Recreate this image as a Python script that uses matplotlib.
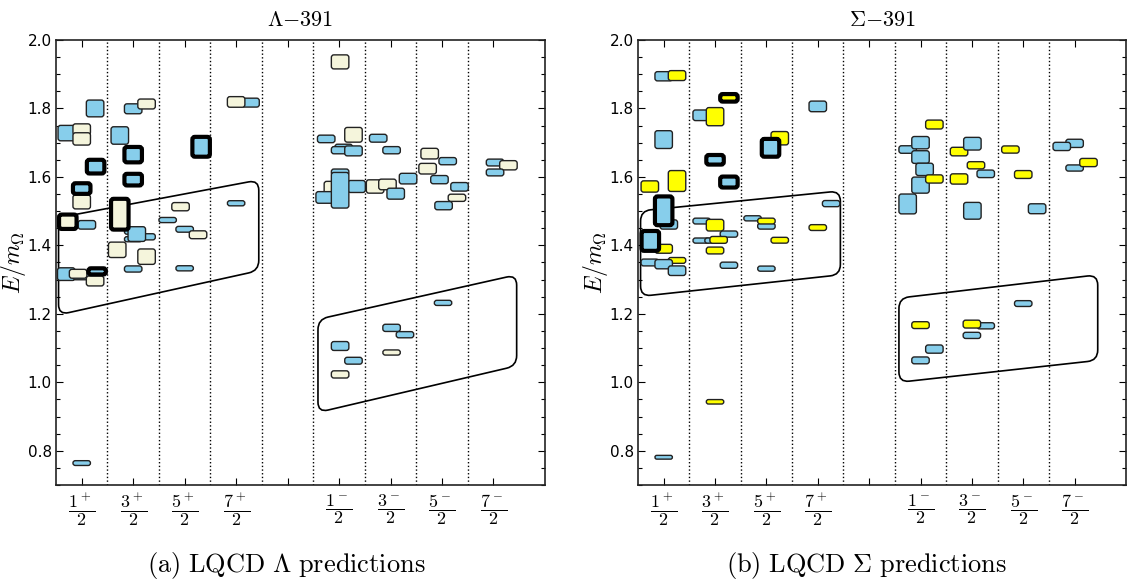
import matplotlib
matplotlib.use("Agg")
import numpy as np
from matplotlib import pyplot as plt
from matplotlib.patches import FancyBboxPatch, PathPatch
from matplotlib.path import Path
from matplotlib.ticker import MultipleLocator, FormatStrFormatter

plt.rcParams['mathtext.fontset'] = 'cm'

spinLabels = [r'$\dfrac{1^+}{2}$', r'$\dfrac{3^+}{2}$', r'$\dfrac{5^+}{2}$', r'$\dfrac{7^+}{2}$', '',
              r'$\dfrac{1^-}{2}$', r'$\dfrac{3^-}{2}$', r'$\dfrac{5^-}{2}$', r'$\dfrac{7^-}{2}$']

# Lambda-391 levels: x slot, E/m_Omega, height, kind (0 = lqcd, 1 = model), bold
lamX = [-0.29, 0.0, 0.0, 0.26, 0.27, 0.0, 0.0, -0.27, 0.10, -0.30, 0.0, -0.07, 0.26, 0.30, 0.0,
        0.74, 1.0, 1.26, 1.0, 1.0, 0.74, 1.0, 1.26, 1.0, 1.07, 0.69, 1.26, 1.0,
        1.92, 1.67, 2.0, 2.26, 2.0, 2.32,
        3.28, 3.0, 3.0,
        5.02, 4.75, 5.28, 5.09, 5.02, 5.28, 4.88, 4.72, 5.34, 5.02, 5.02, 5.02, 5.28, 5.02,
        5.76, 6.02, 5.70, 5.94, 6.10, 6.34, 6.02, 6.28, 6.02,
        6.76, 7.11, 6.72, 6.95, 7.34, 7.29, 7.03, 7.02,
        8.03, 8.29, 8.03]
lamY = [1.728, 1.739, 1.711, 1.800, 1.630, 1.527, 1.566, 1.469, 1.460, 1.316, 1.311, 1.317, 1.296, 1.324, 0.764,
        1.721, 1.799, 1.813, 1.665, 1.592, 1.491, 1.440, 1.425, 1.418, 1.433, 1.387, 1.367, 1.331,
        1.513, 1.474, 1.447, 1.431, 1.333, 1.688,
        1.817, 1.819, 1.523,
        1.936, 1.711, 1.723, 1.687, 1.678, 1.676, 1.565, 1.540, 1.572, 1.614, 1.561, 1.106, 1.063, 1.023,
        1.713, 1.678, 1.572, 1.578, 1.551, 1.595, 1.159, 1.139, 1.087,
        1.668, 1.646, 1.624, 1.592, 1.571, 1.539, 1.516, 1.232,
        1.642, 1.634, 1.613]
lamH = [0.045, 0.032, 0.036, 0.049, 0.040, 0.041, 0.031, 0.042, 0.025, 0.037, 0.023, 0.026, 0.029, 0.018, 0.014,
        0.051, 0.029, 0.029, 0.045, 0.034, 0.090, 0.015, 0.018, 0.015, 0.043, 0.045, 0.045, 0.018,
        0.024, 0.015, 0.017, 0.023, 0.015, 0.058,
        0.026, 0.031, 0.015,
        0.041, 0.022, 0.043, 0.017, 0.021, 0.029, 0.044, 0.034, 0.035, 0.018, 0.104, 0.026, 0.020, 0.021,
        0.023, 0.021, 0.039, 0.031, 0.032, 0.031, 0.021, 0.018, 0.015,
        0.031, 0.021, 0.031, 0.024, 0.025, 0.021, 0.024, 0.015,
        0.020, 0.027, 0.020]
lamKind = [0, 1, 1, 0, 0, 1, 0, 1, 0, 0, 0, 1, 1, 0, 0,
           0, 0, 1, 0, 0, 1, 0, 0, 0, 0, 1, 1, 0,
           1, 0, 0, 1, 0, 0,
           0, 1, 0,
           1, 0, 1, 0, 0, 0, 1, 0, 0, 0, 0, 0, 0, 1,
           0, 0, 1, 1, 0, 0, 0, 0, 1,
           1, 0, 1, 0, 0, 1, 0, 0,
           0, 1, 0]
lamBold = [0, 0, 0, 0, 1, 0, 1, 1, 0, 0, 0, 0, 0, 1, 0,
           0, 0, 0, 1, 1, 1, 0, 0, 0, 0, 0, 0, 0,
           0, 0, 0, 0, 0, 1,
           0, 0, 0,
           0, 0, 0, 0, 0, 0, 0, 0, 0, 0, 0, 0, 0, 0,
           0, 0, 0, 0, 0, 0, 0, 0, 0,
           0, 0, 0, 0, 0, 0, 0, 0,
           0, 0, 0]
lamLoops = [[(-0.45, 1.481), (3.44, 1.591), (3.44, 1.326), (-0.45, 1.197)],
            [(4.59, 1.184), (8.45, 1.314), (8.45, 1.048), (4.59, 0.912)]]

# Sigma-391 levels
sigX = [0.0, 0.26, 0.0, -0.27, 0.26, 0.10, 0.0, 0.0, -0.26, 0.26, -0.27, 0.0, 0.26, 0.0,
        0.74, 1.0, 1.27, 1.0, 1.27, 0.74, 1.0, 1.27, 0.74, 0.97, 1.07, 1.0, 1.27, 1.0,
        2.26, 2.08, 1.73, 2.0, 2.0, 2.26, 2.0,
        3.0, 3.0, 3.26,
        5.27, 4.75, 5.0, 5.0, 5.08, 5.0, 5.27, 4.75, 5.0, 5.27, 5.0,
        5.75, 6.01, 6.08, 6.27, 5.75, 6.01, 6.27, 6.0, 6.0,
        6.75, 7.0, 7.27, 7.0,
        8.0, 7.75, 8.0, 8.27]
sigY = [1.894, 1.896, 1.709, 1.572, 1.588, 1.461, 1.501, 1.390, 1.413, 1.356, 1.350, 1.345, 1.326, 0.781,
        1.780, 1.776, 1.831, 1.650, 1.585, 1.471, 1.459, 1.433, 1.414, 1.414, 1.416, 1.385, 1.342, 0.943,
        1.713, 1.685, 1.479, 1.456, 1.471, 1.415, 1.332,
        1.806, 1.452, 1.522,
        1.753, 1.680, 1.700, 1.658, 1.622, 1.576, 1.594, 1.521, 1.167, 1.097, 1.064,
        1.674, 1.697, 1.634, 1.609, 1.594, 1.501, 1.165, 1.170, 1.137,
        1.680, 1.607, 1.507, 1.230,
        1.698, 1.689, 1.626, 1.642]
sigH = [0.027, 0.029, 0.052, 0.033, 0.061, 0.027, 0.084, 0.026, 0.058, 0.017, 0.020, 0.027, 0.028, 0.011,
        0.031, 0.053, 0.022, 0.028, 0.032, 0.017, 0.034, 0.018, 0.015, 0.015, 0.020, 0.020, 0.018, 0.013,
        0.039, 0.052, 0.015, 0.017, 0.017, 0.017, 0.015,
        0.031, 0.017, 0.018,
        0.026, 0.022, 0.036, 0.037, 0.036, 0.047, 0.024, 0.058, 0.020, 0.024, 0.020,
        0.025, 0.037, 0.021, 0.022, 0.030, 0.049, 0.018, 0.023, 0.018,
        0.021, 0.023, 0.029, 0.017,
        0.024, 0.024, 0.018, 0.024]
sigKind = [0, 1, 0, 1, 1, 0, 0, 1, 0, 1, 0, 0, 0, 0,
           0, 1, 1, 0, 0, 0, 1, 0, 0, 0, 1, 1, 0, 1,
           1, 0, 0, 0, 1, 1, 0,
           0, 1, 0,
           1, 0, 0, 0, 0, 0, 1, 0, 1, 0, 0,
           1, 0, 1, 0, 1, 0, 0, 1, 0,
           1, 1, 0, 0,
           0, 0, 0, 1]
sigBold = [0, 0, 0, 0, 0, 0, 1, 0, 1, 0, 0, 0, 0, 0,
           0, 0, 1, 1, 1, 0, 0, 0, 0, 0, 0, 0, 0, 0,
           0, 1, 0, 0, 0, 0, 0,
           0, 0, 0,
           0, 0, 0, 0, 0, 0, 0, 0, 0, 0, 0,
           0, 0, 0, 0, 0, 0, 0, 0, 0,
           0, 0, 0, 0,
           0, 0, 0, 0]
sigLoops = [[(-0.45, 1.501), (3.44, 1.559), (3.44, 1.314), (-0.45, 1.251)],
            [(4.58, 1.246), (8.45, 1.314), (8.45, 1.064), (4.58, 1.000)]]

ASPECT = 51.7 / 342.5   # x-unit px / y-unit px, so corners look round


def loop_path(corners, r=0.2):
    pts = np.array(corners, float) / [1, ASPECT]
    verts, codes = [], []
    n = len(pts)
    for i in range(n):
        p, a, b = pts[i], pts[i - 1], pts[(i + 1) % n]
        pa = p + r * (a - p) / np.linalg.norm(a - p)
        pb = p + r * (b - p) / np.linalg.norm(b - p)
        verts += [pa, p, pb]
        codes += [Path.LINETO if i else Path.MOVETO, Path.CURVE3, Path.CURVE3]
    verts.append(verts[0])
    codes.append(Path.LINETO)
    return Path(np.array(verts) * [1, ASPECT], codes)


def panel(ax, xs, ys, hs, kinds, bolds, loops, other, title):
    ax.set_xlim(-0.5, 9.0)
    ax.set_ylim(0.7, 2.0)
    for xv in np.arange(0.5, 8.0, 1.0):
        ax.axvline(xv, color='k', ls=':', lw=1.0, zorder=0)
    for c in loops:
        ax.add_patch(PathPatch(loop_path(c), fc='none', ec='k', lw=1.2, zorder=1))
    w = 0.34
    for x, y, h, k, b in zip(xs, ys, hs, kinds, bolds):
        r = min(0.05, 0.5 * h / ASPECT)
        fc = '#87CEEB' if k == 0 else other
        ax.add_patch(FancyBboxPatch((x - w / 2, y - h / 2), w, h,
                                    boxstyle="round,pad=0,rounding_size=%g" % r,
                                    mutation_aspect=ASPECT, fc=fc, ec='k' if b else '#222222',
                                    lw=3.0 if b else 1.0, zorder=3 if b else 2))
    ax.set_xticks(range(9))
    ax.set_xticklabels(spinLabels, fontsize=13)
    ax.yaxis.set_major_locator(MultipleLocator(0.2))
    ax.yaxis.set_minor_locator(MultipleLocator(0.05))
    ax.yaxis.set_major_formatter(FormatStrFormatter('%.1f'))
    ax.tick_params(direction='in', top=True, right=True, length=5, width=0.8)
    ax.tick_params(axis='x', pad=5)
    ax.tick_params(axis='y', labelsize=11, pad=3)
    ax.tick_params(which='minor', direction='in', right=True, length=3, width=0.8)
    for s in ax.spines.values():
        s.set_color('#222222')
        s.set_linewidth(1.2)
    ax.set_ylabel(r'$E/m_\Omega$', fontsize=17)
    ax.yaxis.set_label_coords(-0.058, 0.5)
    ax.set_title(title, fontsize=16, pad=10)


fig = plt.figure(figsize=(11.33, 5.82), dpi=100)
ax1 = fig.add_axes([0.0494, 0.1667, 0.4316, 0.7646])
ax2 = fig.add_axes([0.5631, 0.1667, 0.4307, 0.7646])
panel(ax1, lamX, lamY, lamH, lamKind, lamBold, lamLoops, '#F5F5DC', r'$\Lambda{-}391$')
panel(ax2, sigX, sigY, sigH, sigKind, sigBold, sigLoops, '#FFFF00', r'$\Sigma{-}391$')

fig.text(0.253, 0.029, r'$\mathrm{(a)\ LQCD\ \Lambda\ predictions}$', ha='center', va='center', fontsize=19)
fig.text(0.765, 0.029, r'$\mathrm{(b)\ LQCD\ \Sigma\ predictions}$', ha='center', va='center', fontsize=19)

fig.savefig('out.png', dpi=100)
